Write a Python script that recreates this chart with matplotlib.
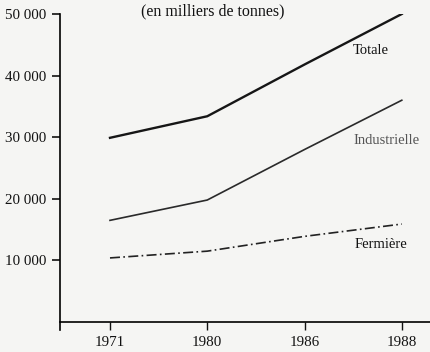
import matplotlib.pyplot as plt
from matplotlib.ticker import FuncFormatter

years = ["1971", "1980", "1986", "1988"]
totale = [29900, 33400, 41800, 50000]
industrielle = [16500, 19800, 28000, 36000]
fermiere = [10400, 11500, 13900, 15900]
yticks = [10000, 20000, 30000, 40000, 50000]

plt.rcParams['font.family'] = ['Liberation Serif', 'DejaVu Serif']

fig = plt.figure(figsize=(4.3, 3.52), dpi=100)
fig.patch.set_facecolor('#f5f5f3')
ax = fig.add_axes([60 / 430, 22 / 352, 370 / 430, 316 / 352])
ax.set_facecolor('#f5f5f3')

x = list(range(len(years)))
ax.plot(x, totale, color='#161616', lw=1.7)
ax.plot(x, industrielle, color='#2a2a2a', lw=1.2)
ax.plot(x, fermiere, color='#222222', lw=1.2, dashes=(6, 2, 1, 2))

ax.set_xlim(-0.514, 3.29)
ax.set_ylim(-1300, 50000)

ax.spines['top'].set_visible(False)
ax.spines['right'].set_visible(False)
ax.spines['bottom'].set_position(('data', 0))
ax.spines['left'].set_linewidth(1.2)
ax.spines['bottom'].set_linewidth(1.2)

ax.set_xticks(x)
ax.set_xticklabels(years)
ax.set_yticks(yticks)
ax.yaxis.set_major_formatter(FuncFormatter(lambda v, p: f"{int(v):,}".replace(",", " ")))
ax.tick_params(axis='y', length=6, width=1.2, pad=4, labelsize=10.8, colors='#111111')
ax.tick_params(axis='x', length=6, width=1.0, pad=4, labelsize=10.8, colors='#111111')

ax.text(2.50, 44000, "Totale", fontsize=10.5, va='center', ha='left', color='#111111')
ax.text(2.50, 29400, "Industrielle", fontsize=10.5, va='center', ha='left', color='#555555')
ax.text(2.52, 12500, "Fermière", fontsize=10.5, va='center', ha='left', color='#111111')

fig.text(213 / 430, 1 - 11 / 352, "(en milliers de tonnes)", fontsize=11.5,
         ha='center', va='center', color='#111111')

fig.savefig("out.png", dpi=100, facecolor=fig.get_facecolor())
